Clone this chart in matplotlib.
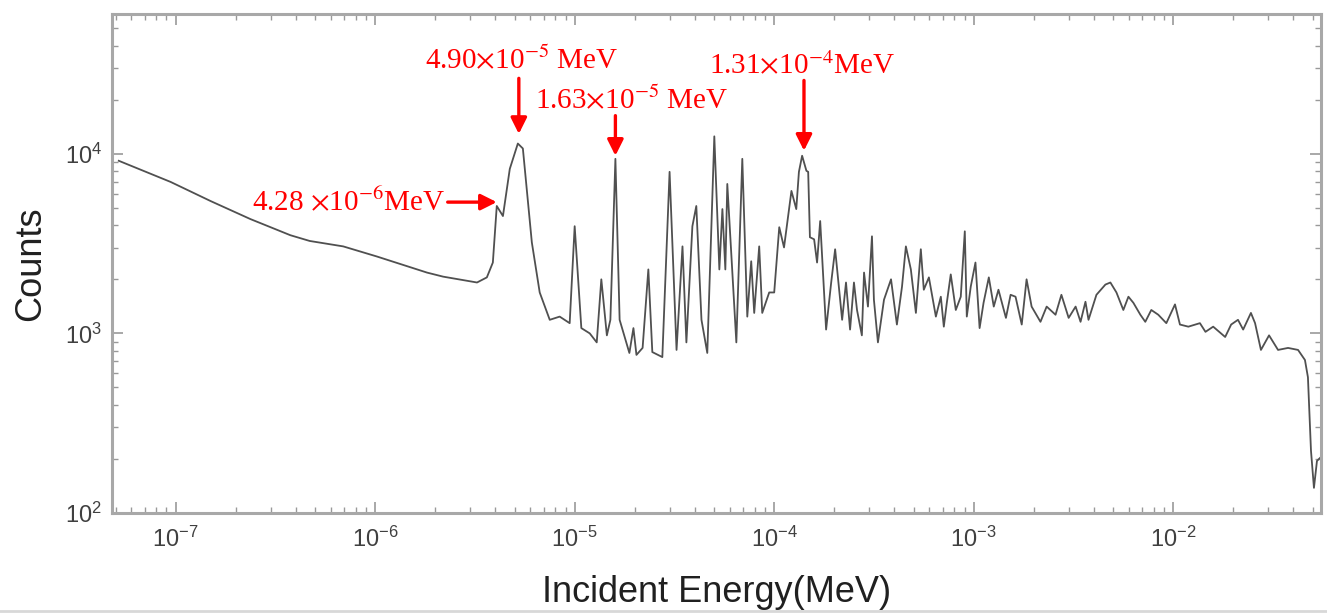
import matplotlib
matplotlib.use("Agg")
import matplotlib.pyplot as plt
from matplotlib.ticker import LogLocator, LogFormatterMathtext, NullFormatter
import numpy as np

plt.rcParams['font.family'] = ['Liberation Sans', 'DejaVu Sans']
plt.rcParams['mathtext.fontset'] = 'custom'
plt.rcParams['mathtext.rm'] = 'Liberation Sans'
plt.rcParams['mathtext.it'] = 'Liberation Sans:italic'
plt.rcParams['mathtext.bf'] = 'Liberation Sans:bold'

# Incident energy (MeV) and counts
energy = [5.19e-8, 9.44e-8, 1.50e-7, 2.37e-7, 3.76e-7, 4.70e-7, 6.92e-7, 1.02e-6,
          1.82e-6, 2.19e-6, 3.24e-6, 3.63e-6, 3.89e-6, 4.07e-6, 4.37e-6, 4.73e-6,
          5.19e-6, 5.50e-6, 6.10e-6, 6.68e-6, 7.50e-6, 8.41e-6, 9.44e-6, 1.00e-5,
          1.08e-5, 1.19e-5, 1.29e-5, 1.36e-5, 1.45e-5, 1.51e-5, 1.60e-5, 1.68e-5,
          1.78e-5, 1.88e-5, 1.97e-5, 2.04e-5, 2.19e-5, 2.34e-5, 2.45e-5, 2.75e-5,
          2.99e-5, 3.24e-5, 3.47e-5, 3.63e-5, 3.89e-5, 4.07e-5, 4.32e-5, 4.62e-5,
          5.01e-5, 5.31e-5, 5.50e-5, 5.69e-5, 5.82e-5, 6.46e-5, 6.92e-5, 7.33e-5,
          7.67e-5, 7.94e-5, 8.41e-5, 8.71e-5, 9.44e-5, 1.00e-4, 1.06e-4, 1.12e-4,
          1.22e-4, 1.29e-4, 1.33e-4, 1.38e-4, 1.45e-4, 1.48e-4, 1.51e-4, 1.585e-4,
          1.64e-4, 1.70e-4, 1.82e-4, 1.93e-4, 2.02e-4, 2.19e-4, 2.29e-4, 2.40e-4,
          2.51e-4, 2.60e-4, 2.75e-4, 2.82e-4, 2.95e-4, 3.09e-4, 3.16e-4, 3.31e-4,
          3.55e-4, 3.85e-4, 4.12e-4, 4.37e-4, 4.57e-4, 4.84e-4, 5.13e-4, 5.43e-4,
          5.62e-4, 5.96e-4, 6.46e-4, 6.84e-4, 7.08e-4, 7.33e-4, 7.67e-4, 8.13e-4,
          8.61e-4, 9.02e-4, 9.23e-4, 9.66e-4, 1.02e-3, 1.07e-3, 1.12e-3, 1.19e-3,
          1.26e-3, 1.33e-3, 1.45e-3, 1.53e-3, 1.62e-3, 1.74e-3, 1.84e-3, 1.95e-3,
          2.16e-3, 2.32e-3, 2.57e-3, 2.75e-3, 2.99e-3, 3.24e-3, 3.43e-3, 3.63e-3,
          3.76e-3, 4.12e-3, 4.57e-3, 4.84e-3, 5.19e-3, 5.62e-3, 5.96e-3, 6.31e-3,
          6.84e-3, 7.24e-3, 7.76e-3, 8.41e-3, 9.23e-3, 1.02e-2, 1.08e-2, 1.19e-2,
          1.36e-2, 1.45e-2, 1.585e-2, 1.82e-2, 1.95e-2, 2.11e-2, 2.24e-2, 2.45e-2,
          2.57e-2, 2.75e-2, 3.02e-2, 3.35e-2, 3.76e-2, 4.22e-2, 4.57e-2, 4.73e-2,
          4.90e-2, 5.07e-2, 5.25e-2, 5.45e-2]

counts = [9140, 6970, 5450, 4330, 3520, 3270, 3050, 2680,
          2180, 2070, 1920, 2050, 2480, 5120, 4500, 8240,
          11400, 10700, 3210, 1690, 1190, 1240, 1140, 3950,
          1070, 1000, 891, 2000, 975, 1190, 9370, 1190,
          955, 778, 1070, 759, 830, 2270, 787, 738,
          7930, 809, 3050, 891, 3950, 5120, 1190, 778,
          12500, 2270, 4920, 2270, 6790, 891, 9370, 1240,
          2520, 1300, 3050, 1300, 1690, 1690, 3900, 3010,
          6210, 4920, 7930, 9750, 8040, 7930, 3430, 3340,
          2480, 4220, 1050, 1920, 2940, 1190, 1920, 1050,
          1920, 1350, 975, 2180, 1410, 3470, 1540, 891,
          1540, 2000, 1120, 1820, 3050, 2270, 1300, 2940,
          1750, 2050, 1240, 1600, 1090, 1480, 2130, 1350,
          1600, 3700, 1240, 1820, 2480, 1070, 1480, 2050,
          1410, 1750, 1220, 1640, 1600, 1120, 2000, 1410,
          1160, 1410, 1270, 1640, 1220, 1410, 1160, 1500,
          1190, 1640, 1870, 1920, 1690, 1350, 1600, 1480,
          1270, 1160, 1350, 1270, 1140, 1450, 1120, 1090,
          1140, 1020, 1090, 955, 1120, 1190, 1050, 1300,
          1140, 809, 975, 809, 830, 809, 711, 570,
          222, 138, 195, 203]

x_ticks = [1e-7, 1e-6, 1e-5, 1e-4, 1e-3, 1e-2]
y_ticks = [1e2, 1e3, 1e4]

fig = plt.figure(figsize=(13.27, 6.13), dpi=100)
ax = fig.add_axes([112/1327, 1 - 513/613, (1321 - 112)/1327, (513 - 14)/613])

ax.plot(energy, counts, color='#505050', lw=1.3)
ax.set_xscale('log')
ax.set_yscale('log')
ax.set_xlim(4.8e-8, 0.055)
ax.set_ylim(100, 60000)

ax.set_xticks(x_ticks)
ax.set_yticks(y_ticks)
ax.xaxis.set_major_formatter(LogFormatterMathtext())
ax.yaxis.set_major_formatter(LogFormatterMathtext())
ax.xaxis.set_minor_locator(LogLocator(base=10, subs=np.arange(2, 10), numticks=50))
ax.yaxis.set_minor_locator(LogLocator(base=10, subs=np.arange(2, 10), numticks=50))
ax.xaxis.set_minor_formatter(NullFormatter())
ax.yaxis.set_minor_formatter(NullFormatter())

spine_col = '#a8a8a8'
for s in ax.spines.values():
    s.set_color(spine_col)
    s.set_linewidth(2.2)
ax.tick_params(which='both', direction='in', top=True, right=True, color='#999999')
ax.tick_params(which='major', length=8, width=1.2, labelsize=17, labelcolor='#404040')
ax.tick_params(which='minor', length=4, width=1.0)
ax.tick_params(axis='x', which='major', pad=10)
ax.tick_params(axis='y', which='major', pad=7)

ax.set_ylabel('Counts', fontsize=26, color='#202020', labelpad=12)
fig.text(0.5 * (112 + 1321) / 1327, 1 - 592/613, 'Incident Energy(MeV)', fontsize=26,
         color='#202020', ha='center', va='center')

red = '#ff0000'
ann_font = dict(color=red, fontsize=21, family=['Liberation Serif', 'DejaVu Serif'],
                math_fontfamily='stix')
arrow = dict(arrowstyle='-|>', color=red, lw=2.4, mutation_scale=24, shrinkA=0, shrinkB=0)

# labels
ax.text(5.43e-6, 2.99e4, r'4.90$\times$10$^{-5}$ MeV', ha='center', va='baseline', **ann_font)
ax.text(1.93e-5, 1.79e4, r'1.63$\times$10$^{-5}$ MeV', ha='center', va='baseline', **ann_font)
ax.text(1.38e-4, 2.77e4, r'1.31$\times$10$^{-4}$MeV', ha='center', va='baseline', **ann_font)
ax.text(2.24e-6, 5.38e3, r'4.28 $\times$10$^{-6}$MeV', ha='right', va='center', **ann_font)

# arrows
ax.annotate('', xy=(5.25e-6, 1.29e4), xytext=(5.25e-6, 2.63e4), arrowprops=arrow)
ax.annotate('', xy=(1.60e-5, 9.75e3), xytext=(1.60e-5, 1.63e4), arrowprops=arrow)
ax.annotate('', xy=(1.41e-4, 1.04e4), xytext=(1.41e-4, 2.56e4), arrowprops=arrow)
ax.annotate('', xy=(4.07e-6, 5.38e3), xytext=(2.31e-6, 5.38e3), arrowprops=arrow)

fig.add_artist(plt.Line2D([0, 1], [0.004, 0.004], color='#d8d8d8', lw=2,
                          transform=fig.transFigure))

fig.savefig('out.png', dpi=100, facecolor='white')
